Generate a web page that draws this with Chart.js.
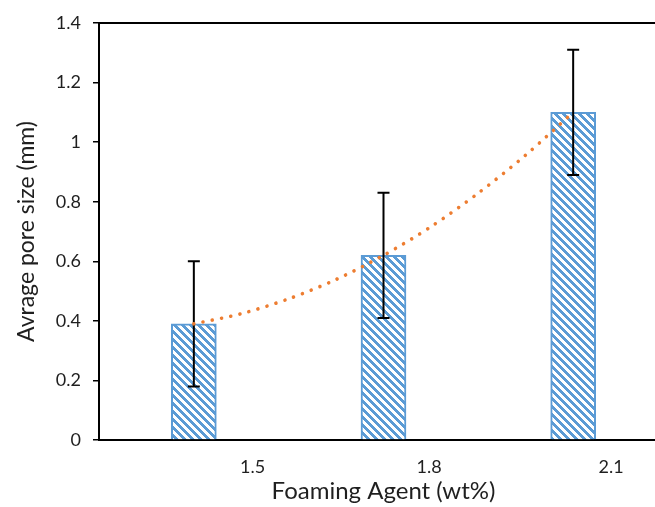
<!DOCTYPE html>
<html>
<head>
<meta charset="utf-8">
<script src="https://cdn.jsdelivr.net/npm/chart.js@4/dist/chart.umd.min.js"></script>
<style>
  html, body { margin: 0; padding: 0; background: #fff; overflow: hidden; }
  #chart { display: block; }
</style>
</head>
<body>
<canvas id="chart" width="680" height="507" style="width:680px;height:507px"></canvas>
<script>
// data
const categories = ['1.5', '1.8', '2.1'];
const poreSize = [0.39, 0.62, 1.1];
const poreError = [0.21, 0.21, 0.21];

// polynomial trendline (x in category units)
const trendX = [0, 0.25, 0.5, 0.75, 1, 1.25, 1.5, 1.75, 2];
const trendY = [0.39, 0.424, 0.474, 0.539, 0.62, 0.716, 0.829, 0.957, 1.1];

// where the x labels sit under the plot (category units)
const tickSpots = [0.31, 1.24, 2.2];

const BLUE = '#5B9BD5';
const ORANGE = '#ED7D31';
const TEXT = '#1f1f1f';

// wide downward diagonal hatch
function makeHatch() {
  const c = document.createElement('canvas');
  c.width = 8; c.height = 8;
  const g = c.getContext('2d');
  const img = g.createImageData(8, 8);
  for (let y = 0; y < 8; y++) {
    for (let x = 0; x < 8; x++) {
      const i = (y * 8 + x) * 4;
      const on = ((x - y) % 8 + 8) % 8 < 4;
      img.data[i] = on ? 0x5B : 255;
      img.data[i + 1] = on ? 0x9B : 255;
      img.data[i + 2] = on ? 0xD5 : 255;
      img.data[i + 3] = 255;
    }
  }
  g.putImageData(img, 0, 0);
  return g.createPattern(c, 'repeat');
}

const errorBars = {
  id: 'errorBars',
  afterDatasetDraw(chart, args) {
    if (args.index !== 0) return;
    const ctx = chart.ctx;
    const y = chart.scales.y;
    const meta = chart.getDatasetMeta(0);
    ctx.save();
    ctx.strokeStyle = '#000';
    ctx.lineWidth = 2;
    meta.data.forEach((bar, i) => {
      const hi = y.getPixelForValue(poreSize[i] + poreError[i]);
      const lo = y.getPixelForValue(poreSize[i] - poreError[i]);
      ctx.beginPath();
      ctx.moveTo(bar.x, hi); ctx.lineTo(bar.x, lo);
      ctx.moveTo(bar.x - 6, hi); ctx.lineTo(bar.x + 6, hi);
      ctx.moveTo(bar.x - 6, lo); ctx.lineTo(bar.x + 6, lo);
      ctx.stroke();
    });
    ctx.restore();
  }
};

const topFrame = {
  id: 'topFrame',
  afterDraw(chart) {
    const { ctx, chartArea } = chart;
    ctx.save();
    ctx.strokeStyle = '#000';
    ctx.lineWidth = 2;
    ctx.beginPath();
    ctx.moveTo(chartArea.left - 1, chartArea.top);
    ctx.lineTo(chartArea.right + 20, chartArea.top);
    ctx.stroke();
    ctx.restore();
  }
};

new Chart(document.getElementById('chart'), {
  type: 'bar',
  data: {
    datasets: [
      {
        data: poreSize.map((v, i) => ({ x: i, y: v })),
        backgroundColor: makeHatch(),
        borderColor: BLUE,
        borderWidth: 2,
        barThickness: 45,
        order: 2
      },
      {
        type: 'line',
        data: trendX.map((x, i) => ({ x: x, y: trendY[i] })),
        borderColor: ORANGE,
        borderWidth: 3.6,
        borderDash: [0.01, 9.4],
        borderCapStyle: 'round',
        tension: 0.3,
        pointRadius: 0,
        fill: false,
        order: 1
      }
    ]
  },
  options: {
    responsive: false,
    animation: false,
    layout: { padding: { top: 23, right: 12, left: 0, bottom: 0 } },
    plugins: {
      legend: { display: false },
      tooltip: { enabled: false }
    },
    scales: {
      x: {
        type: 'linear',
        position: 'bottom',
        min: -0.5,
        max: 2.5,
        offset: false,
        afterBuildTicks: (axis) => { axis.ticks = tickSpots.map(v => ({ value: v })); },
        afterFit: (axis) => { axis.height = 67; },
        grid: { display: false, offset: false },
        border: { display: true, color: '#000', width: 2 },
        ticks: {
          color: TEXT,
          padding: 8,
          maxRotation: 0,
          autoSkip: false,
          font: { family: 'Lato', size: 18 },
          callback: (v, i) => categories[i]
        },
        title: {
          display: true,
          text: 'Foaming Agent (wt%)',
          color: TEXT,
          font: { family: 'Lato', size: 24 },
          padding: { top: 0, bottom: 1 }
        }
      },
      y: {
        min: 0,
        max: 1.4,
        afterFit: (axis) => { axis.width = 99; },
        grid: {
          drawOnChartArea: false,
          drawTicks: true,
          tickLength: 6,
          color: '#000',
          lineWidth: 1.5
        },
        border: { display: true, color: '#000', width: 2 },
        ticks: {
          stepSize: 0.2,
          color: TEXT,
          padding: 12,
          font: { family: 'Lato', size: 18 },
          callback: (v) => String(Math.round(v * 10) / 10)
        },
        title: {
          display: true,
          text: 'Avrage pore size (mm)',
          color: TEXT,
          font: { family: 'Lato', size: 23 },
          padding: { top: 13, bottom: 0 }
        }
      }
    }
  },
  plugins: [errorBars, topFrame]
});
</script>
</body>
</html>
